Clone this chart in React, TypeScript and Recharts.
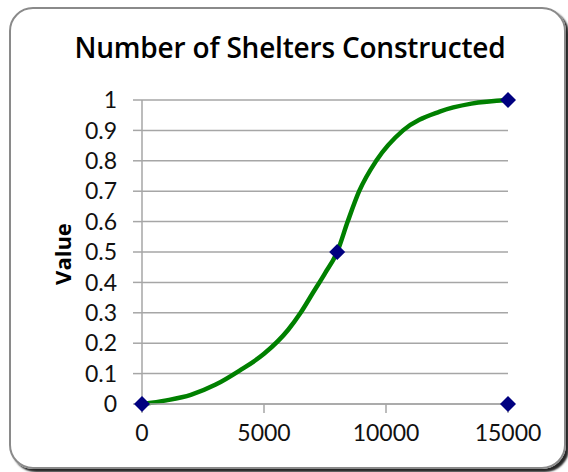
import React from 'react';
import { ComposedChart, Line, Scatter, XAxis, YAxis, CartesianGrid } from 'recharts';

const curveX = [0, 1000, 2000, 3000, 4000, 5000, 6000, 6500, 7000, 7500, 8000, 8430, 8900, 9600, 10700, 12200, 13500, 15000];
const curveY = [0, 0.012, 0.03, 0.063, 0.11, 0.165, 0.245, 0.3, 0.365, 0.43, 0.5, 0.6, 0.7, 0.8, 0.9, 0.962, 0.988, 1];
const markerX = [0, 8000, 15000, 15000];
const markerY = [0, 0.5, 1, 0];
const xTicks = [0, 5000, 10000, 15000];
const yTicks = [0, 0.1, 0.2, 0.3, 0.4, 0.5, 0.6, 0.7, 0.8, 0.9, 1];
const title = 'Number of Shelters Constructed';
const yLabel = 'Value';

const curveData = curveX.map((x, i) => ({ x, y: curveY[i] }));
const markerData = markerX.map((x, i) => ({ x, y: markerY[i] }));

const FONT = 'Lato, "Open Sans", sans-serif';
const TITLE_FONT = '"Open Sans", Lato, sans-serif';

const Diamond = (props: any) => {
  const { cx, cy } = props;
  const r = 8;
  return <polygon points={`${cx},${cy - r} ${cx + r},${cy} ${cx},${cy + r} ${cx - r},${cy}`} fill="#000080" />;
};

export default function App() {
  return (
    <div style={{ position: 'absolute', left: 0, top: 0, width: 568, height: 472, background: '#fff', fontFamily: FONT }}>
      <div
        style={{
          position: 'absolute',
          left: 9,
          top: 7,
          width: 553,
          height: 458,
          border: '2px solid #8a8a8a',
          borderRadius: 24,
          boxShadow: '3px 3px 2px rgba(0,0,0,0.85)',
          boxSizing: 'content-box',
        }}
      />
      <div
        style={{
          position: 'absolute',
          left: 0,
          width: 580,
          top: 29,
          lineHeight: '36px',
          textAlign: 'center',
          fontFamily: TITLE_FONT,
          fontWeight: 600,
          fontSize: 28,
          letterSpacing: -0.2,
          color: '#000',
          whiteSpace: 'nowrap',
        }}
      >
        {title}
      </div>
      <div style={{ position: 'absolute', left: 0, top: 0 }}>
        <ComposedChart width={568} height={472} data={curveData} margin={{ top: 100, right: 60, left: 0, bottom: 0 }}>
          <CartesianGrid vertical={false} stroke="#a6a6a6" strokeWidth={1.5} />
          <XAxis
            type="number"
            dataKey="x"
            domain={[0, 15000]}
            ticks={xTicks}
            height={68}
            tickSize={9}
            tickMargin={12}
            axisLine={{ stroke: '#a6a6a6', strokeWidth: 1.5 }}
            tickLine={{ stroke: '#a6a6a6', strokeWidth: 1.5 }}
            tick={{ fill: '#111', fontSize: 23, fontFamily: FONT }}
            interval={0}
          />
          <YAxis
            type="number"
            dataKey="y"
            domain={[0, 1]}
            ticks={yTicks}
            width={142}
            tickSize={9}
            tickMargin={16}
            axisLine={{ stroke: '#a6a6a6', strokeWidth: 1.5 }}
            tickLine={{ stroke: '#a6a6a6', strokeWidth: 1.5 }}
            tick={{ fill: '#111', fontSize: 23, fontFamily: FONT }}
            interval={0}
            label={{
              content: () => (
                <text
                  x={62}
                  y={254}
                  transform="rotate(-90 62 254)"
                  textAnchor="middle"
                  dominantBaseline="central"
                  fontFamily={TITLE_FONT}
                  fontWeight={700}
                  fontSize={22}
                  fill="#000"
                >
                  {yLabel}
                </text>
              ),
            }}
          />
          <Line
            type="monotone"
            dataKey="y"
            stroke="#008000"
            strokeWidth={4.5}
            dot={false}
            activeDot={false}
            isAnimationActive={false}
          />
          <Scatter data={markerData} dataKey="y" shape={<Diamond />} isAnimationActive={false} />
        </ComposedChart>
      </div>
    </div>
  );
}
